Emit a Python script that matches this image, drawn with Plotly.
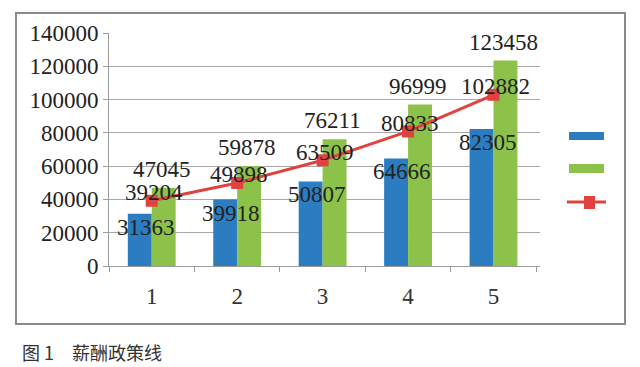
import plotly.graph_objects as go

categories = ["1", "2", "3", "4", "5"]
blue_vals = [31363, 39918, 50807, 64666, 82305]
green_vals = [47045, 59878, 76211, 96999, 123458]
line_vals = [39204, 49898, 63509, 80833, 102882]
y_ticks = [0, 20000, 40000, 60000, 80000, 100000, 120000, 140000]
caption = "图 1　薪酬政策线"

serif = "Liberation Serif"
fs = 23
txt_col = "#222222"
BLUE, GREEN, RED = "#2B7CC1", "#8CC24A", "#E2423F"

fig = go.Figure()
fig.add_trace(go.Bar(x=categories, y=blue_vals, marker=dict(color=BLUE, line=dict(width=0))))
fig.add_trace(go.Bar(x=categories, y=green_vals, marker=dict(color=GREEN, line=dict(width=0))))
fig.add_trace(go.Scatter(
    x=categories, y=line_vals, mode="lines+markers",
    line=dict(color=RED, width=3),
    marker=dict(symbol="square", size=12, color=RED),
))

annotations = []
for i, v in enumerate(blue_vals):
    annotations.append(dict(x=i, y=v, xref="x", yref="y", text=str(v), showarrow=False,
                            xanchor="center", yanchor="top", xshift=-6, yshift=1,
                            font=dict(family=serif, size=fs, color=txt_col)))
for i, v in enumerate(green_vals):
    annotations.append(dict(x=i, y=v, xref="x", yref="y", text=str(v), showarrow=False,
                            xanchor="center", yanchor="bottom", xshift=10, yshift=4,
                            font=dict(family=serif, size=fs, color=txt_col)))
for i, v in enumerate(line_vals):
    annotations.append(dict(x=i, y=v, xref="x", yref="y", text=str(v), showarrow=False,
                            xanchor="center", yanchor="middle", xshift=2, yshift=8,
                            font=dict(family=serif, size=fs, color=txt_col)))
annotations.append(dict(text=caption, xref="paper", yref="paper",
                        x=-0.2065, y=-0.369, xanchor="left", yanchor="middle",
                        showarrow=False,
                        font=dict(family="Noto Sans CJK SC", size=18, color="#333333")))

# legend swatches (no text in the reference legend)
legend_shapes = [
    dict(type="rect", xref="paper", yref="paper", x0=1.0673, x1=1.1485, y0=0.5408, y1=0.5751,
         fillcolor=BLUE, line=dict(width=0)),
    dict(type="rect", xref="paper", yref="paper", x0=1.0673, x1=1.1485, y0=0.3991, y1=0.4378,
         fillcolor=GREEN, line=dict(width=0)),
    dict(type="line", xref="paper", yref="paper", x0=1.0626, x1=1.1532, y0=0.2747, y1=0.2747,
         line=dict(color=RED, width=3)),
    dict(type="rect", xref="paper", yref="paper", x0=1.1021, x1=1.1276, y0=0.2446, y1=0.3004,
         fillcolor=RED, line=dict(width=0)),
]

fig.update_layout(
    width=640, height=367,
    margin=dict(l=109, r=100, t=33, b=101, autoexpand=False),
    paper_bgcolor="white", plot_bgcolor="white",
    barmode="group", bargap=0.44, bargroupgap=0,
    showlegend=False,
    font=dict(family=serif, size=fs, color=txt_col),
    xaxis=dict(type="category", showline=True, linecolor="#9a9a9a", linewidth=1,
               ticks="outside", tickson="boundaries", ticklen=5, tickcolor="#9a9a9a",
               showgrid=False, automargin=False,
               tickfont=dict(family=serif, size=fs, color="#333333"),
               ticklabelstandoff=9),
    yaxis=dict(range=[0, 140000], tickvals=y_ticks, ticktext=[str(v) for v in y_ticks],
               showline=True, linecolor="#9a9a9a", linewidth=1,
               ticks="outside", ticklen=5, tickcolor="#9a9a9a", automargin=False,
               showgrid=True, gridcolor="#a8a8a8", gridwidth=1, zeroline=False,
               tickfont=dict(family=serif, size=fs, color=txt_col)),
    shapes=[dict(type="rect", xref="paper", yref="paper",
                 x0=-0.2158, x1=1.1972, y0=-0.2489, y1=1.0858,
                 line=dict(color="#8a8a8a", width=2), layer="below")] + legend_shapes,
    annotations=annotations,
)
fig.update_traces(cliponaxis=False, hoverinfo="skip")

fig.write_html("out.html", config={"displayModeBar": False, "staticPlot": True},
               post_script="document.body.style.margin='0';document.body.style.overflow='hidden';")
